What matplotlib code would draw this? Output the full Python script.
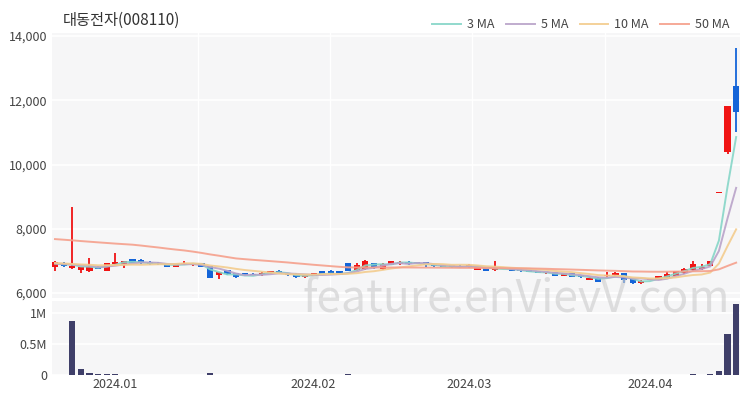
import matplotlib.pyplot as plt
import numpy as np
from matplotlib.ticker import FuncFormatter

plt.rcParams['font.family'] = ['Noto Sans CJK KR', 'DejaVu Sans']

title = '대동전자(008110)'

# trading days shown per month
months = ['2023.12', '2024.01', '2024.02', '2024.03', '2024.04']
days_in_month = [7, 23, 18, 21, 11]

# closes before the visible window (needed for the moving averages)
prior_close = [7800, 7850, 7900, 7820, 7760, 7880, 7950, 7840, 7800,
               8300, 8450, 8380, 8500, 8420, 8350,
               8700, 8850, 8800, 8650, 8750, 8600,
               7700, 7650, 7600, 7700, 7650, 7600,
               7750, 7700, 7800, 7650, 7700, 7600, 7550,
               6950, 6900, 6980, 7000, 6920, 6880, 6950, 7010, 6960, 6900,
               6930, 6880, 6950, 6900, 6880]

opens = [6820, 6940, 6770, 6720, 6690, 6820, 6700, 6890, 6860, 7050,
         7040, 6960, 6950, 6890, 6810, 6870, 6860, 6920, 6840, 6560,
         6710, 6610, 6610, 6600, 6580, 6610, 6700, 6610, 6580, 6490,
         6540, 6680, 6680, 6680, 6920, 6710, 6740, 6920, 6740, 6870,
         6890, 6960, 6970, 6960, 6890, 6870, 6860, 6850, 6800, 6730,
         6770, 6710, 6800, 6750, 6730, 6710, 6680, 6610, 6660, 6530,
         6610, 6560, 6400, 6480, 6520, 6550, 6610, 6450, 6300, 6400,
         6420, 6460, 6530, 6610, 6710, 6740, 6850, 9100, 10400, 12430]
highs = [6990, 6960, 8680, 6810, 7080, 6840, 6930, 7250, 7000, 7060,
         7060, 6990, 6980, 6900, 6900, 6990, 6940, 6930, 6850, 6670,
         6720, 6620, 6620, 6620, 6640, 6700, 6710, 6620, 6630, 6570,
         6620, 6690, 6720, 6690, 6930, 6920, 7020, 6930, 6920, 7000,
         6990, 7000, 6980, 6970, 6900, 6880, 6870, 6860, 6910, 6820,
         6780, 7000, 6810, 6760, 6740, 6720, 6690, 6660, 6670, 6620,
         6620, 6570, 6490, 6490, 6660, 6640, 6620, 6460, 6390, 6440,
         6540, 6640, 6700, 6770, 7000, 6900, 7010, 9100, 11830, 13640]
lows = [6700, 6800, 6750, 6630, 6650, 6740, 6690, 6880, 6770, 6930,
        6910, 6880, 6880, 6810, 6800, 6860, 6850, 6800, 6460, 6440,
        6570, 6480, 6540, 6550, 6530, 6600, 6610, 6530, 6480, 6480,
        6530, 6590, 6590, 6560, 6690, 6700, 6730, 6760, 6730, 6860,
        6880, 6880, 6900, 6820, 6810, 6800, 6790, 6790, 6790, 6710,
        6690, 6700, 6740, 6680, 6670, 6640, 6610, 6600, 6520, 6520,
        6500, 6480, 6390, 6340, 6500, 6540, 6320, 6290, 6290, 6390,
        6410, 6450, 6520, 6600, 6700, 6730, 6840, 9100, 10330, 11000]
closes = [6970, 6830, 6850, 6800, 6810, 6750, 6920, 6970, 6990, 6950,
          6930, 6910, 6920, 6820, 6890, 6950, 6900, 6820, 6480, 6660,
          6590, 6490, 6560, 6560, 6630, 6690, 6620, 6550, 6490, 6560,
          6610, 6600, 6600, 6570, 6700, 6870, 7010, 6780, 6900, 6990,
          6960, 6900, 6920, 6880, 6830, 6810, 6810, 6800, 6880, 6800,
          6700, 6790, 6750, 6690, 6690, 6650, 6620, 6650, 6530, 6610,
          6510, 6490, 6480, 6350, 6560, 6630, 6400, 6300, 6380, 6430,
          6520, 6600, 6690, 6760, 6890, 6800, 7000, 9100, 11830, 11640]
volumes = [8000, 6000, 870000, 97000, 37000, 15000, 10000, 12000, 8000, 5000,
           4000, 3000, 3000, 4000, 3000, 5000, 3000, 4000, 27000, 8000,
           5000, 4000, 3000, 3000, 3000, 4000, 3000, 3000, 4000, 3000,
           3000, 3000, 3000, 3000, 9000, 6000, 8000, 4000, 4000, 5000,
           3000, 3000, 3000, 3000, 2000, 2000, 2000, 2000, 3000, 3000,
           2000, 6000, 2000, 2000, 2000, 2000, 2000, 2000, 3000, 2000,
           3000, 3000, 4000, 5000, 4000, 3000, 6000, 5000, 3000, 2000,
           3000, 4000, 5000, 5000, 9000, 6000, 12000, 65000, 660000, 1145000]

ma_periods = [3, 5, 10, 50]
ma_colors = ['#86d6c8', '#b9a3c9', '#f3cc8e', '#f5a08c']

o = np.array(opens)
h = np.array(highs)
l = np.array(lows)
c = np.array(closes)
v = np.array(volumes)
x = np.arange(len(c))
n = len(c)

all_close = np.array(prior_close + closes, dtype=float)
mas = []
for p in ma_periods:
    m = np.convolve(all_close, np.ones(p) / p, mode='valid')
    mas.append(m[-n:])

fig = plt.figure(figsize=(7.5, 4), dpi=100)
ax = fig.add_axes([0.0693, 0.255, 0.9174, 0.6625])
axv = fig.add_axes([0.0693, 0.0625, 0.9174, 0.185])

bg = '#f6f6f7'
for a in (ax, axv):
    a.set_facecolor(bg)
    for s in a.spines.values():
        s.set_visible(False)
    a.tick_params(length=0, labelsize=9, colors='#444444')
    a.set_xlim(-0.35, n - 0.55)

up = c >= o
colors = np.where(up, '#f01414', '#1464d8')
body_low = np.minimum(o, c)
body_h = np.maximum(np.abs(c - o), 30)

ax.vlines(x, l, h, colors=colors, lw=1.3, zorder=3)
ax.bar(x, body_h, bottom=body_low, width=0.72, color=colors, zorder=3)

for p, m, col in zip(ma_periods, mas, ma_colors):
    ax.plot(x, m, color=col, lw=1.4, alpha=0.9, zorder=4, label=f'{p} MA')

ax.set_ylim(5845, 14095)
ax.set_yticks([6000, 8000, 10000, 12000, 14000])
ax.yaxis.set_major_formatter(FuncFormatter(lambda val, pos: f'{val:,.0f}'))
ax.set_xticks([])
ax.set_xticks([16.6, 31.9, 48.4, 63.8], minor=True)
ax.tick_params(which='minor', length=0)
ax.grid(True, which='major', axis='y', color='white', lw=1.2, zorder=0)
ax.grid(True, which='minor', axis='x', color='white', lw=1.0, zorder=0)
ax.set_axisbelow(True)

axv.bar(x, v, width=0.72, color='#3f3f69', zorder=3)
axv.set_ylim(0, 1.19e6)
axv.set_yticks([0, 500000, 1000000])
axv.set_yticklabels(['0', '0.5M', '1M'])
axv.grid(True, axis='y', color='white', lw=1.2, zorder=0)
axv.set_axisbelow(True)

# month ticks at the first trading day of each month
starts = np.cumsum([0] + days_in_month[:-1])
axv.set_xticks(starts[1:])
axv.set_xticklabels(months[1:])
axv.tick_params(axis='x', pad=2)

fig.text(0.084, 0.948, title, fontsize=11, color='#333333', va='center', ha='left')

fig.legend(loc='center right', bbox_to_anchor=(0.988, 0.938), ncol=4, frameon=False,
           fontsize=9, handlelength=2.3, columnspacing=0.9, handletextpad=0.5,
           labelcolor='#444444')

fig.text(0.688, 0.255, 'feature.enVievV.com', fontsize=32, color='#cccccc',
         alpha=0.6, ha='center', va='center', zorder=10)

fig.savefig('out.png', dpi=100, facecolor='white')
